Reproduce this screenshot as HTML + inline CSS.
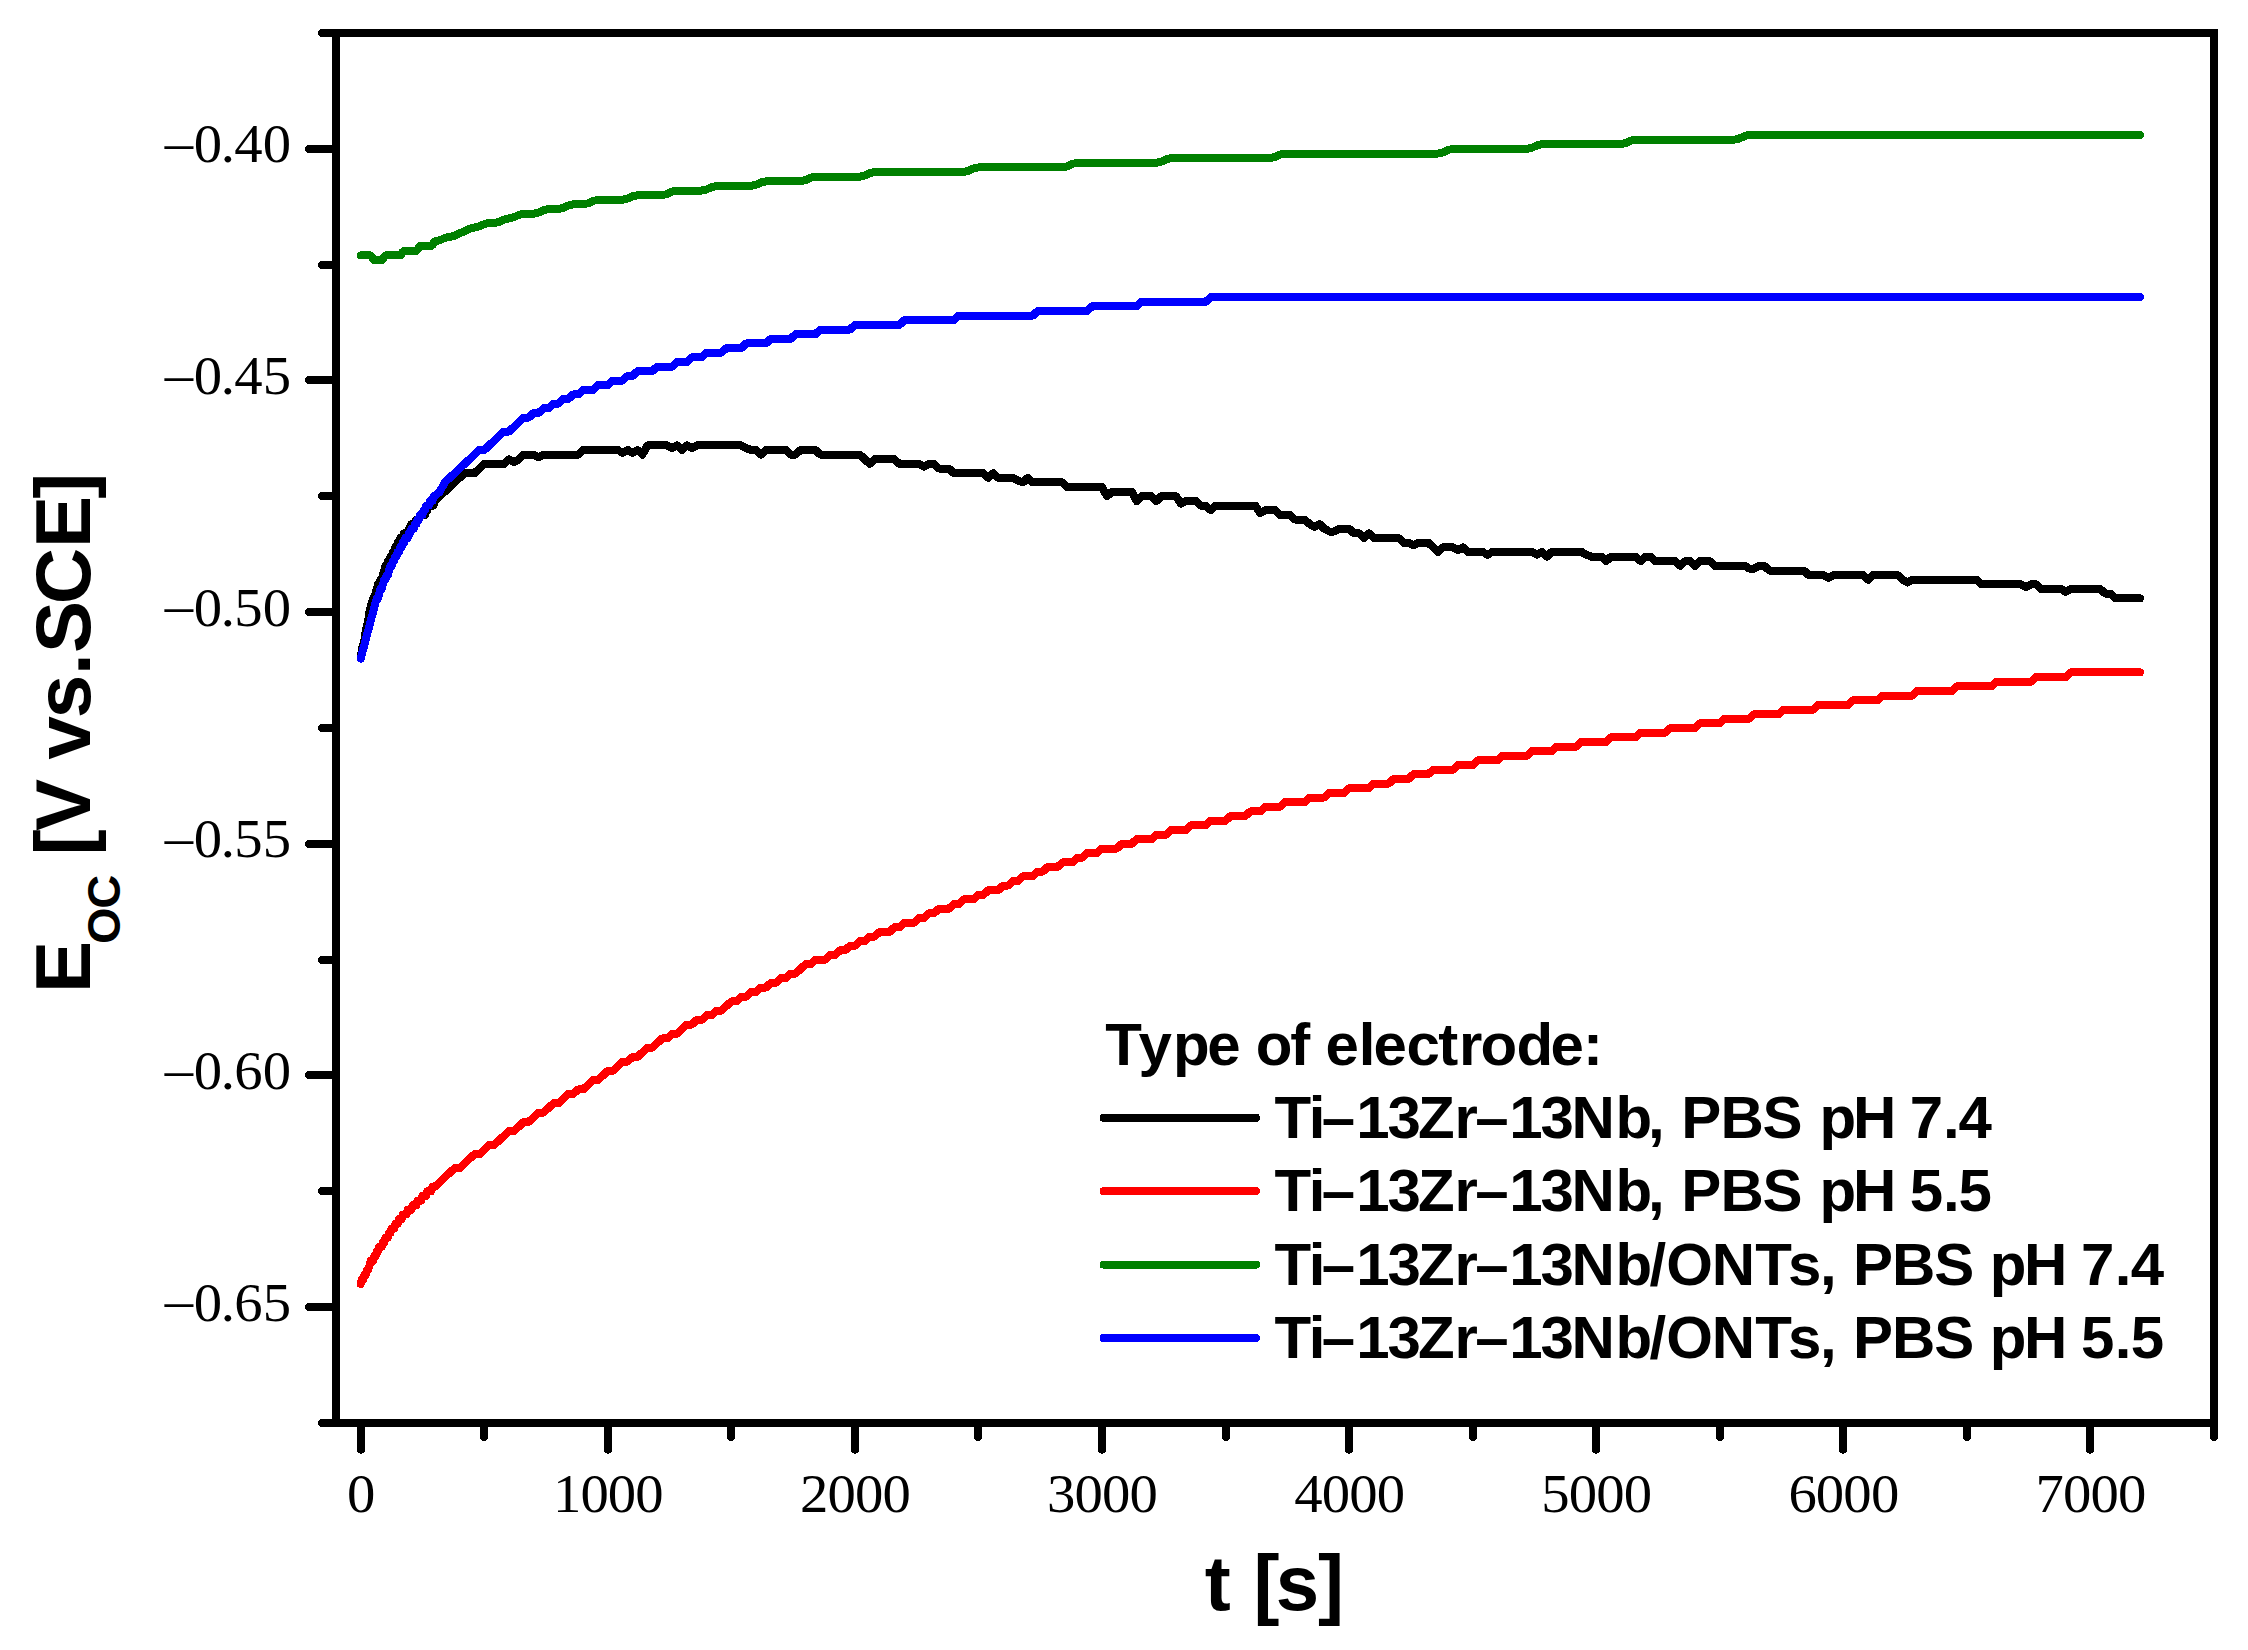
<!DOCTYPE html>
<html lang="en"><head><meta charset="utf-8"><title>Open circuit potential</title>
<style>html,body{margin:0;padding:0;background:#fff;overflow:hidden}svg{display:block}.tk{font-family:"Liberation Serif","Times New Roman",serif;font-size:54px;fill:#000}.lb{font-family:"Liberation Sans",Arial,sans-serif;font-weight:bold;fill:#000}</style></head><body>
<svg shape-rendering="crispEdges" width="2248" height="1650" viewBox="0 0 2248 1650">
<rect width="2248" height="1650" fill="#fff"/>
<g fill="none" stroke-width="8.0" stroke-linecap="round" stroke-linejoin="round">
<path stroke="#000" d="M360.7,658.5 L361.9,649.2 L363.2,644.6 L364.4,640.0 L365.7,630.7 L366.9,626.1 L368.1,621.4 L369.4,612.2 L370.6,607.5 L371.8,602.9 L373.1,598.3 L374.3,598.3 L375.5,593.6 L376.8,589.0 L378.0,584.4 L379.2,584.4 L380.5,579.7 L381.7,579.7 L382.9,575.1 L384.2,570.5 L385.4,565.8 L386.7,565.8 L387.9,561.2 L389.1,561.2 L390.4,556.6 L391.6,556.6 L392.8,551.9 L394.1,551.9 L395.3,547.3 L396.5,547.3 L397.8,542.7 L399.0,542.7 L400.2,538.0 L401.5,538.0 L402.7,538.0 L404.0,533.4 L405.2,533.4 L406.4,533.4 L407.7,533.4 L408.9,528.8 L410.1,528.8 L411.4,524.1 L412.6,524.1 L413.8,524.1 L415.1,524.1 L416.3,519.5 L417.5,519.5 L418.8,519.5 L420.0,514.9 L421.3,514.9 L422.5,514.9 L423.7,514.9 L425.0,514.9 L426.2,510.2 L427.4,510.2 L428.7,505.6 L429.9,505.6 L431.1,505.6 L432.4,505.6 L433.6,505.6 L434.8,501.0 L439.8,496.3 L444.7,491.7 L449.7,487.1 L454.6,482.4 L459.6,477.8 L464.5,473.2 L469.4,473.2 L474.4,473.2 L479.3,468.5 L484.3,463.9 L489.2,463.9 L494.1,463.9 L499.1,463.9 L504.0,463.9 L509.0,459.3 L513.9,462.0 L518.9,459.3 L523.8,454.6 L528.7,454.6 L533.7,454.6 L538.6,457.4 L543.6,454.6 L548.5,454.6 L553.5,454.6 L558.4,454.6 L563.3,454.6 L568.3,454.6 L573.2,454.6 L578.2,454.6 L583.1,450.0 L588.0,450.0 L593.0,450.0 L597.9,450.0 L602.9,450.0 L607.8,450.0 L612.8,450.0 L617.7,450.0 L622.6,452.8 L627.6,450.0 L632.5,452.8 L637.5,450.0 L642.4,454.6 L647.4,445.4 L652.3,445.4 L657.2,445.4 L662.2,445.4 L667.1,445.4 L672.1,448.1 L677.0,445.4 L681.9,450.0 L686.9,445.4 L691.8,448.1 L696.8,445.4 L701.7,445.4 L706.7,445.4 L711.6,445.4 L716.5,445.4 L721.5,445.4 L726.4,445.4 L731.4,445.4 L736.3,445.4 L741.3,445.4 L746.2,448.1 L751.1,450.0 L756.1,450.0 L761.0,454.6 L766.0,450.0 L770.9,450.0 L775.8,450.0 L780.8,450.0 L785.7,450.0 L790.7,454.6 L795.6,454.6 L800.6,450.0 L805.5,450.0 L810.4,450.0 L815.4,450.0 L820.3,454.6 L825.3,454.6 L830.2,454.6 L835.2,454.6 L840.1,454.6 L845.0,454.6 L850.0,454.6 L854.9,454.6 L859.9,454.6 L864.8,459.3 L869.7,463.9 L874.7,459.3 L879.6,459.3 L884.6,459.3 L889.5,459.3 L894.5,459.3 L899.4,463.9 L904.3,463.9 L909.3,463.9 L914.2,463.9 L919.2,463.9 L924.1,466.7 L929.1,463.9 L934.0,463.9 L938.9,468.5 L943.9,468.5 L948.8,468.5 L953.8,473.2 L958.7,473.2 L963.6,473.2 L968.6,473.2 L973.5,473.2 L978.5,473.2 L983.4,473.2 L988.4,477.8 L993.3,473.2 L998.2,477.8 L1003.2,477.8 L1008.1,477.8 L1013.1,477.8 L1018.0,480.6 L1023.0,482.4 L1027.9,477.8 L1032.8,482.4 L1037.8,482.4 L1042.7,482.4 L1047.7,482.4 L1052.6,482.4 L1057.5,482.4 L1062.5,482.4 L1067.4,487.1 L1072.4,487.1 L1077.3,487.1 L1082.3,487.1 L1087.2,487.1 L1092.1,487.1 L1097.1,487.1 L1102.0,487.1 L1107.0,496.3 L1111.9,491.7 L1116.9,491.7 L1121.8,491.7 L1126.7,491.7 L1131.7,491.7 L1136.6,501.0 L1141.6,496.3 L1146.5,496.3 L1151.4,496.3 L1156.4,501.0 L1161.3,496.3 L1166.3,496.3 L1171.2,496.3 L1176.2,496.3 L1181.1,503.7 L1186.0,501.0 L1191.0,501.0 L1195.9,501.0 L1200.9,505.6 L1205.8,505.6 L1210.8,510.2 L1215.7,505.6 L1220.6,505.6 L1225.6,505.6 L1230.5,505.6 L1235.5,505.6 L1240.4,505.6 L1245.3,505.6 L1250.3,505.6 L1255.2,505.6 L1260.2,513.0 L1265.1,510.2 L1270.1,510.2 L1275.0,510.2 L1279.9,514.9 L1284.9,514.9 L1289.8,514.9 L1294.8,519.5 L1299.7,519.5 L1304.7,519.5 L1309.6,524.1 L1314.5,526.9 L1319.5,524.1 L1324.4,528.8 L1329.4,531.5 L1334.3,531.5 L1339.2,528.8 L1344.2,528.8 L1349.1,528.8 L1354.1,533.4 L1359.0,533.4 L1364.0,538.0 L1368.9,533.4 L1373.8,538.0 L1378.8,538.0 L1383.7,538.0 L1388.7,538.0 L1393.6,538.0 L1398.6,538.0 L1403.5,542.7 L1408.4,542.7 L1413.4,545.4 L1418.3,542.7 L1423.3,542.7 L1428.2,542.7 L1433.1,547.3 L1438.1,551.9 L1443.0,547.3 L1448.0,547.3 L1452.9,547.3 L1457.9,550.1 L1462.8,547.3 L1467.7,551.9 L1472.7,551.9 L1477.6,551.9 L1482.6,551.9 L1487.5,554.7 L1492.5,551.9 L1497.4,551.9 L1502.3,551.9 L1507.3,551.9 L1512.2,551.9 L1517.2,551.9 L1522.1,551.9 L1527.0,551.9 L1532.0,551.9 L1536.9,554.7 L1541.9,551.9 L1546.8,556.6 L1551.8,551.9 L1556.7,551.9 L1561.6,551.9 L1566.6,551.9 L1571.5,551.9 L1576.5,551.9 L1581.4,551.9 L1586.4,554.7 L1591.3,556.6 L1596.2,556.6 L1601.2,556.6 L1606.1,561.2 L1611.1,556.6 L1616.0,556.6 L1620.9,556.6 L1625.9,556.6 L1630.8,556.6 L1635.8,556.6 L1640.7,561.2 L1645.7,556.6 L1650.6,556.6 L1655.5,561.2 L1660.5,561.2 L1665.4,561.2 L1670.4,561.2 L1675.3,561.2 L1680.3,565.8 L1685.2,561.2 L1690.1,561.2 L1695.1,565.8 L1700.0,561.2 L1705.0,561.2 L1709.9,561.2 L1714.8,565.8 L1719.8,565.8 L1724.7,565.8 L1729.7,565.8 L1734.6,565.8 L1739.6,565.8 L1744.5,565.8 L1749.4,568.6 L1754.4,568.6 L1759.3,565.8 L1764.3,565.8 L1769.2,570.5 L1774.2,570.5 L1779.1,570.5 L1784.0,570.5 L1789.0,570.5 L1793.9,570.5 L1798.9,570.5 L1803.8,570.5 L1808.7,575.1 L1813.7,575.1 L1818.6,575.1 L1823.6,575.1 L1828.5,577.9 L1833.5,575.1 L1838.4,575.1 L1843.3,575.1 L1848.3,575.1 L1853.2,575.1 L1858.2,575.1 L1863.1,575.1 L1868.1,579.7 L1873.0,575.1 L1877.9,575.1 L1882.9,575.1 L1887.8,575.1 L1892.8,575.1 L1897.7,575.1 L1902.6,579.7 L1907.6,582.5 L1912.5,579.7 L1917.5,579.7 L1922.4,579.7 L1927.4,579.7 L1932.3,579.7 L1937.2,579.7 L1942.2,579.7 L1947.1,579.7 L1952.1,579.7 L1957.0,579.7 L1962.0,579.7 L1966.9,579.7 L1971.8,579.7 L1976.8,579.7 L1981.7,584.4 L1986.7,584.4 L1991.6,584.4 L1996.5,584.4 L2001.5,584.4 L2006.4,584.4 L2011.4,584.4 L2016.3,584.4 L2021.3,584.4 L2026.2,587.1 L2031.1,584.4 L2036.1,584.4 L2041.0,589.0 L2046.0,589.0 L2050.9,589.0 L2055.9,589.0 L2060.8,589.0 L2065.7,591.8 L2070.7,589.0 L2075.6,589.0 L2080.6,589.0 L2085.5,589.0 L2090.4,589.0 L2095.4,589.0 L2100.3,589.0 L2105.3,593.6 L2110.2,593.6 L2115.2,598.3 L2120.1,598.3 L2125.0,598.3 L2130.0,598.3 L2134.9,598.3 L2139.9,598.3"/>
<path stroke="#f00" d="M360.7,1284.0 L361.9,1279.4 L363.2,1279.4 L364.4,1274.7 L365.7,1274.7 L366.9,1270.1 L368.1,1270.1 L369.4,1265.5 L370.6,1260.8 L371.8,1260.8 L373.1,1260.8 L374.3,1256.2 L375.5,1256.2 L376.8,1251.6 L378.0,1251.6 L379.2,1246.9 L380.5,1246.9 L381.7,1246.9 L382.9,1242.3 L384.2,1242.3 L385.4,1237.7 L386.7,1237.7 L387.9,1237.7 L389.1,1233.0 L390.4,1233.0 L391.6,1228.4 L392.8,1228.4 L394.1,1228.4 L395.3,1223.8 L396.5,1223.8 L397.8,1223.8 L399.0,1219.1 L400.2,1219.1 L401.5,1219.1 L402.7,1214.5 L404.0,1214.5 L405.2,1214.5 L406.4,1214.5 L407.7,1209.9 L408.9,1209.9 L410.1,1209.9 L411.4,1209.9 L412.6,1205.2 L413.8,1205.2 L415.1,1205.2 L416.3,1205.2 L417.5,1200.6 L418.8,1200.6 L420.0,1200.6 L421.3,1200.6 L422.5,1196.0 L423.7,1196.0 L425.0,1196.0 L426.2,1196.0 L427.4,1191.3 L428.7,1191.3 L429.9,1191.3 L431.1,1191.3 L432.4,1186.7 L433.6,1186.7 L434.8,1186.7 L439.8,1182.1 L444.7,1177.4 L449.7,1172.8 L454.6,1168.2 L459.6,1168.2 L464.5,1163.5 L469.4,1158.9 L474.4,1154.3 L479.3,1154.3 L484.3,1149.6 L489.2,1145.0 L494.1,1145.0 L499.1,1140.4 L504.0,1135.7 L509.0,1131.1 L513.9,1131.1 L518.9,1126.5 L523.8,1121.8 L528.7,1121.8 L533.7,1117.2 L538.6,1112.6 L543.6,1112.6 L548.5,1107.9 L553.5,1103.3 L558.4,1103.3 L563.3,1098.7 L568.3,1094.0 L573.2,1094.0 L578.2,1089.4 L583.1,1089.4 L588.0,1084.8 L593.0,1080.1 L597.9,1080.1 L602.9,1075.5 L607.8,1070.9 L612.8,1070.9 L617.7,1066.2 L622.6,1061.6 L627.6,1061.6 L632.5,1057.0 L637.5,1057.0 L642.4,1052.3 L647.4,1047.7 L652.3,1047.7 L657.2,1043.1 L662.2,1038.4 L667.1,1038.4 L672.1,1033.8 L677.0,1033.8 L681.9,1029.2 L686.9,1024.5 L691.8,1024.5 L696.8,1019.9 L701.7,1019.9 L706.7,1015.3 L711.6,1015.3 L716.5,1010.6 L721.5,1010.6 L726.4,1006.0 L731.4,1001.4 L736.3,1001.4 L741.3,996.7 L746.2,996.7 L751.1,992.1 L756.1,992.1 L761.0,987.5 L766.0,987.5 L770.9,982.8 L775.8,982.8 L780.8,978.2 L785.7,978.2 L790.7,973.6 L795.6,973.6 L800.6,968.9 L805.5,964.3 L810.4,964.3 L815.4,959.7 L820.3,959.7 L825.3,959.7 L830.2,955.0 L835.2,955.0 L840.1,950.4 L845.0,950.4 L850.0,945.8 L854.9,945.8 L859.9,941.1 L864.8,941.1 L869.7,936.5 L874.7,936.5 L879.6,931.9 L884.6,931.9 L889.5,931.9 L894.5,927.2 L899.4,927.2 L904.3,922.6 L909.3,922.6 L914.2,922.6 L919.2,918.0 L924.1,918.0 L929.1,913.3 L934.0,913.3 L938.9,908.7 L943.9,908.7 L948.8,908.7 L953.8,904.1 L958.7,904.1 L963.6,899.4 L968.6,899.4 L973.5,899.4 L978.5,894.8 L983.4,894.8 L988.4,890.2 L993.3,890.2 L998.2,890.2 L1003.2,885.5 L1008.1,885.5 L1013.1,880.9 L1018.0,880.9 L1023.0,876.3 L1027.9,876.3 L1032.8,876.3 L1037.8,871.6 L1042.7,871.6 L1047.7,867.0 L1052.6,867.0 L1057.5,867.0 L1062.5,862.4 L1067.4,862.4 L1072.4,862.4 L1077.3,857.7 L1082.3,857.7 L1087.2,853.1 L1092.1,853.1 L1097.1,853.1 L1102.0,848.5 L1107.0,848.5 L1111.9,848.5 L1116.9,848.5 L1121.8,843.8 L1126.7,843.8 L1131.7,843.8 L1136.6,839.2 L1141.6,839.2 L1146.5,839.2 L1151.4,839.2 L1156.4,834.6 L1161.3,834.6 L1166.3,834.6 L1171.2,829.9 L1176.2,829.9 L1181.1,829.9 L1186.0,829.9 L1191.0,825.3 L1195.9,825.3 L1200.9,825.3 L1205.8,825.3 L1210.8,820.7 L1215.7,820.7 L1220.6,820.7 L1225.6,820.7 L1230.5,816.0 L1235.5,816.0 L1240.4,816.0 L1245.3,816.0 L1250.3,811.4 L1255.2,811.4 L1260.2,811.4 L1265.1,806.8 L1270.1,806.8 L1275.0,806.8 L1279.9,806.8 L1284.9,802.1 L1289.8,802.1 L1294.8,802.1 L1299.7,802.1 L1304.7,802.1 L1309.6,797.5 L1314.5,797.5 L1319.5,797.5 L1324.4,797.5 L1329.4,792.9 L1334.3,792.9 L1339.2,792.9 L1344.2,792.9 L1349.1,788.2 L1354.1,788.2 L1359.0,788.2 L1364.0,788.2 L1368.9,788.2 L1373.8,783.6 L1378.8,783.6 L1383.7,783.6 L1388.7,783.6 L1393.6,779.0 L1398.6,779.0 L1403.5,779.0 L1408.4,779.0 L1413.4,774.3 L1418.3,774.3 L1423.3,774.3 L1428.2,774.3 L1433.1,769.7 L1438.1,769.7 L1443.0,769.7 L1448.0,769.7 L1452.9,769.7 L1457.9,765.1 L1462.8,765.1 L1467.7,765.1 L1472.7,765.1 L1477.6,760.4 L1482.6,760.4 L1487.5,760.4 L1492.5,760.4 L1497.4,760.4 L1502.3,755.8 L1507.3,755.8 L1512.2,755.8 L1517.2,755.8 L1522.1,755.8 L1527.0,755.8 L1532.0,751.2 L1536.9,751.2 L1541.9,751.2 L1546.8,751.2 L1551.8,751.2 L1556.7,746.5 L1561.6,746.5 L1566.6,746.5 L1571.5,746.5 L1576.5,746.5 L1581.4,741.9 L1586.4,741.9 L1591.3,741.9 L1596.2,741.9 L1601.2,741.9 L1606.1,741.9 L1611.1,737.3 L1616.0,737.3 L1620.9,737.3 L1625.9,737.3 L1630.8,737.3 L1635.8,737.3 L1640.7,732.6 L1645.7,732.6 L1650.6,732.6 L1655.5,732.6 L1660.5,732.6 L1665.4,732.6 L1670.4,728.0 L1675.3,728.0 L1680.3,728.0 L1685.2,728.0 L1690.1,728.0 L1695.1,728.0 L1700.0,723.4 L1705.0,723.4 L1709.9,723.4 L1714.8,723.4 L1719.8,723.4 L1724.7,718.7 L1729.7,718.7 L1734.6,718.7 L1739.6,718.7 L1744.5,718.7 L1749.4,718.7 L1754.4,714.1 L1759.3,714.1 L1764.3,714.1 L1769.2,714.1 L1774.2,714.1 L1779.1,714.1 L1784.0,709.5 L1789.0,709.5 L1793.9,709.5 L1798.9,709.5 L1803.8,709.5 L1808.7,709.5 L1813.7,709.5 L1818.6,704.8 L1823.6,704.8 L1828.5,704.8 L1833.5,704.8 L1838.4,704.8 L1843.3,704.8 L1848.3,704.8 L1853.2,700.2 L1858.2,700.2 L1863.1,700.2 L1868.1,700.2 L1873.0,700.2 L1877.9,700.2 L1882.9,695.6 L1887.8,695.6 L1892.8,695.6 L1897.7,695.6 L1902.6,695.6 L1907.6,695.6 L1912.5,695.6 L1917.5,690.9 L1922.4,690.9 L1927.4,690.9 L1932.3,690.9 L1937.2,690.9 L1942.2,690.9 L1947.1,690.9 L1952.1,690.9 L1957.0,686.3 L1962.0,686.3 L1966.9,686.3 L1971.8,686.3 L1976.8,686.3 L1981.7,686.3 L1986.7,686.3 L1991.6,686.3 L1996.5,681.7 L2001.5,681.7 L2006.4,681.7 L2011.4,681.7 L2016.3,681.7 L2021.3,681.7 L2026.2,681.7 L2031.1,681.7 L2036.1,677.0 L2041.0,677.0 L2046.0,677.0 L2050.9,677.0 L2055.9,677.0 L2060.8,677.0 L2065.7,677.0 L2070.7,672.4 L2075.6,672.4 L2080.6,672.4 L2085.5,672.4 L2090.4,672.4 L2095.4,672.4 L2100.3,672.4 L2105.3,672.4 L2110.2,672.4 L2115.2,672.4 L2120.1,672.4 L2125.0,672.4 L2130.0,672.4 L2134.9,672.4 L2139.9,672.4"/>
<path stroke="#008000" d="M360.7,255.4 L361.9,255.4 L363.2,255.4 L364.4,255.4 L365.7,255.4 L366.9,255.4 L368.1,255.4 L369.4,255.4 L370.6,255.4 L371.8,256.6 L373.1,258.9 L374.3,260.0 L375.5,260.0 L376.8,260.0 L378.0,260.0 L379.2,260.0 L380.5,260.0 L381.7,260.0 L382.9,258.9 L384.2,256.6 L385.4,255.4 L386.7,255.4 L387.9,255.4 L389.1,255.4 L390.4,255.4 L391.6,255.4 L392.8,255.4 L394.1,255.4 L395.3,255.4 L396.5,255.4 L397.8,255.4 L399.0,255.4 L400.2,255.4 L401.5,254.2 L402.7,251.9 L404.0,250.8 L405.2,250.8 L406.4,250.8 L407.7,250.8 L408.9,250.8 L410.1,250.8 L411.4,250.8 L412.6,250.8 L413.8,250.8 L415.1,250.8 L416.3,250.8 L417.5,249.6 L418.8,247.3 L420.0,246.1 L421.3,246.1 L422.5,246.1 L423.7,246.1 L425.0,246.1 L426.2,246.1 L427.4,246.1 L428.7,246.1 L429.9,246.1 L431.1,246.1 L432.4,245.0 L433.6,242.7 L434.8,241.5 L439.8,240.3 L444.7,238.0 L449.7,236.9 L454.6,235.7 L459.6,233.4 L464.5,231.1 L469.4,228.8 L474.4,227.6 L479.3,226.4 L484.3,224.1 L489.2,223.0 L494.1,223.0 L499.1,221.8 L504.0,219.5 L509.0,218.3 L513.9,217.2 L518.9,214.9 L523.8,213.7 L528.7,213.7 L533.7,213.7 L538.6,212.5 L543.6,210.2 L548.5,209.1 L553.5,209.1 L558.4,209.1 L563.3,207.9 L568.3,205.6 L573.2,204.4 L578.2,204.4 L583.1,204.4 L588.0,203.3 L593.0,201.0 L597.9,199.8 L602.9,199.8 L607.8,199.8 L612.8,199.8 L617.7,199.8 L622.6,199.8 L627.6,198.6 L632.5,196.3 L637.5,195.2 L642.4,195.2 L647.4,195.2 L652.3,195.2 L657.2,195.2 L662.2,195.2 L667.1,194.0 L672.1,191.7 L677.0,190.5 L681.9,190.5 L686.9,190.5 L691.8,190.5 L696.8,190.5 L701.7,190.5 L706.7,189.4 L711.6,187.1 L716.5,185.9 L721.5,185.9 L726.4,185.9 L731.4,185.9 L736.3,185.9 L741.3,185.9 L746.2,185.9 L751.1,185.9 L756.1,184.7 L761.0,182.4 L766.0,181.3 L770.9,181.3 L775.8,181.3 L780.8,181.3 L785.7,181.3 L790.7,181.3 L795.6,181.3 L800.6,181.3 L805.5,180.1 L810.4,177.8 L815.4,176.6 L820.3,176.6 L825.3,176.6 L830.2,176.6 L835.2,176.6 L840.1,176.6 L845.0,176.6 L850.0,176.6 L854.9,176.6 L859.9,176.6 L864.8,175.5 L869.7,173.2 L874.7,172.0 L879.6,172.0 L884.6,172.0 L889.5,172.0 L894.5,172.0 L899.4,172.0 L904.3,172.0 L909.3,172.0 L914.2,172.0 L919.2,172.0 L924.1,172.0 L929.1,172.0 L934.0,172.0 L938.9,172.0 L943.9,172.0 L948.8,172.0 L953.8,172.0 L958.7,172.0 L963.6,172.0 L968.6,170.8 L973.5,168.5 L978.5,167.4 L983.4,167.4 L988.4,167.4 L993.3,167.4 L998.2,167.4 L1003.2,167.4 L1008.1,167.4 L1013.1,167.4 L1018.0,167.4 L1023.0,167.4 L1027.9,167.4 L1032.8,167.4 L1037.8,167.4 L1042.7,167.4 L1047.7,167.4 L1052.6,167.4 L1057.5,167.4 L1062.5,167.4 L1067.4,166.2 L1072.4,163.9 L1077.3,162.7 L1082.3,162.7 L1087.2,162.7 L1092.1,162.7 L1097.1,162.7 L1102.0,162.7 L1107.0,162.7 L1111.9,162.7 L1116.9,162.7 L1121.8,162.7 L1126.7,162.7 L1131.7,162.7 L1136.6,162.7 L1141.6,162.7 L1146.5,162.7 L1151.4,162.7 L1156.4,162.7 L1161.3,161.6 L1166.3,159.3 L1171.2,158.1 L1176.2,158.1 L1181.1,158.1 L1186.0,158.1 L1191.0,158.1 L1195.9,158.1 L1200.9,158.1 L1205.8,158.1 L1210.8,158.1 L1215.7,158.1 L1220.6,158.1 L1225.6,158.1 L1230.5,158.1 L1235.5,158.1 L1240.4,158.1 L1245.3,158.1 L1250.3,158.1 L1255.2,158.1 L1260.2,158.1 L1265.1,158.1 L1270.1,158.1 L1275.0,156.9 L1279.9,154.6 L1284.9,153.5 L1289.8,153.5 L1294.8,153.5 L1299.7,153.5 L1304.7,153.5 L1309.6,153.5 L1314.5,153.5 L1319.5,153.5 L1324.4,153.5 L1329.4,153.5 L1334.3,153.5 L1339.2,153.5 L1344.2,153.5 L1349.1,153.5 L1354.1,153.5 L1359.0,153.5 L1364.0,153.5 L1368.9,153.5 L1373.8,153.5 L1378.8,153.5 L1383.7,153.5 L1388.7,153.5 L1393.6,153.5 L1398.6,153.5 L1403.5,153.5 L1408.4,153.5 L1413.4,153.5 L1418.3,153.5 L1423.3,153.5 L1428.2,153.5 L1433.1,153.5 L1438.1,153.5 L1443.0,152.3 L1448.0,150.0 L1452.9,148.8 L1457.9,148.8 L1462.8,148.8 L1467.7,148.8 L1472.7,148.8 L1477.6,148.8 L1482.6,148.8 L1487.5,148.8 L1492.5,148.8 L1497.4,148.8 L1502.3,148.8 L1507.3,148.8 L1512.2,148.8 L1517.2,148.8 L1522.1,148.8 L1527.0,148.8 L1532.0,147.7 L1536.9,145.4 L1541.9,144.2 L1546.8,144.2 L1551.8,144.2 L1556.7,144.2 L1561.6,144.2 L1566.6,144.2 L1571.5,144.2 L1576.5,144.2 L1581.4,144.2 L1586.4,144.2 L1591.3,144.2 L1596.2,144.2 L1601.2,144.2 L1606.1,144.2 L1611.1,144.2 L1616.0,144.2 L1620.9,144.2 L1625.9,143.0 L1630.8,140.7 L1635.8,139.6 L1640.7,139.6 L1645.7,139.6 L1650.6,139.6 L1655.5,139.6 L1660.5,139.6 L1665.4,139.6 L1670.4,139.6 L1675.3,139.6 L1680.3,139.6 L1685.2,139.6 L1690.1,139.6 L1695.1,139.6 L1700.0,139.6 L1705.0,139.6 L1709.9,139.6 L1714.8,139.6 L1719.8,139.6 L1724.7,139.6 L1729.7,139.6 L1734.6,139.6 L1739.6,138.4 L1744.5,136.1 L1749.4,134.9 L1754.4,134.9 L1759.3,134.9 L1764.3,134.9 L1769.2,134.9 L1774.2,134.9 L1779.1,134.9 L1784.0,134.9 L1789.0,134.9 L1793.9,134.9 L1798.9,134.9 L1803.8,134.9 L1808.7,134.9 L1813.7,134.9 L1818.6,134.9 L1823.6,134.9 L1828.5,134.9 L1833.5,134.9 L1838.4,134.9 L1843.3,134.9 L1848.3,134.9 L1853.2,134.9 L1858.2,134.9 L1863.1,134.9 L1868.1,134.9 L1873.0,134.9 L1877.9,134.9 L1882.9,134.9 L1887.8,134.9 L1892.8,134.9 L1897.7,134.9 L1902.6,134.9 L1907.6,134.9 L1912.5,134.9 L1917.5,134.9 L1922.4,134.9 L1927.4,134.9 L1932.3,134.9 L1937.2,134.9 L1942.2,134.9 L1947.1,134.9 L1952.1,134.9 L1957.0,134.9 L1962.0,134.9 L1966.9,134.9 L1971.8,134.9 L1976.8,134.9 L1981.7,134.9 L1986.7,134.9 L1991.6,134.9 L1996.5,134.9 L2001.5,134.9 L2006.4,134.9 L2011.4,134.9 L2016.3,134.9 L2021.3,134.9 L2026.2,134.9 L2031.1,134.9 L2036.1,134.9 L2041.0,134.9 L2046.0,134.9 L2050.9,134.9 L2055.9,134.9 L2060.8,134.9 L2065.7,134.9 L2070.7,134.9 L2075.6,134.9 L2080.6,134.9 L2085.5,134.9 L2090.4,134.9 L2095.4,134.9 L2100.3,134.9 L2105.3,134.9 L2110.2,134.9 L2115.2,134.9 L2120.1,134.9 L2125.0,134.9 L2130.0,134.9 L2134.9,134.9 L2139.9,134.9"/>
<path stroke="#00f" d="M360.7,658.5 L361.9,653.9 L363.2,649.2 L364.4,644.6 L365.7,640.0 L366.9,635.3 L368.1,630.7 L369.4,626.1 L370.6,621.4 L371.8,616.8 L373.1,612.2 L374.3,607.5 L375.5,602.9 L376.8,598.3 L378.0,598.3 L379.2,593.6 L380.5,589.0 L381.7,589.0 L382.9,584.4 L384.2,579.7 L385.4,579.7 L386.7,575.1 L387.9,575.1 L389.1,570.5 L390.4,565.8 L391.6,565.8 L392.8,561.2 L394.1,561.2 L395.3,556.6 L396.5,556.6 L397.8,551.9 L399.0,551.9 L400.2,547.3 L401.5,547.3 L402.7,542.7 L404.0,542.7 L405.2,538.0 L406.4,538.0 L407.7,538.0 L408.9,533.4 L410.1,533.4 L411.4,528.8 L412.6,528.8 L413.8,528.8 L415.1,524.1 L416.3,524.1 L417.5,519.5 L418.8,519.5 L420.0,514.9 L421.3,514.9 L422.5,514.9 L423.7,510.2 L425.0,510.2 L426.2,505.6 L427.4,505.6 L428.7,505.6 L429.9,501.0 L431.1,501.0 L432.4,501.0 L433.6,496.3 L434.8,496.3 L439.8,491.7 L444.7,482.4 L449.7,477.8 L454.6,473.2 L459.6,468.5 L464.5,463.9 L469.4,459.3 L474.4,454.6 L479.3,450.0 L484.3,450.0 L489.2,445.4 L494.1,440.7 L499.1,436.1 L504.0,431.5 L509.0,431.5 L513.9,426.8 L518.9,422.2 L523.8,417.6 L528.7,417.6 L533.7,412.9 L538.6,412.9 L543.6,408.3 L548.5,408.3 L553.5,403.7 L558.4,403.7 L563.3,399.0 L568.3,399.0 L573.2,394.4 L578.2,394.4 L583.1,389.8 L588.0,389.8 L593.0,389.8 L597.9,385.1 L602.9,385.1 L607.8,385.1 L612.8,380.5 L617.7,380.5 L622.6,380.5 L627.6,375.9 L632.5,375.9 L637.5,371.2 L642.4,371.2 L647.4,371.2 L652.3,371.2 L657.2,366.6 L662.2,366.6 L667.1,366.6 L672.1,366.6 L677.0,362.0 L681.9,362.0 L686.9,362.0 L691.8,357.3 L696.8,357.3 L701.7,357.3 L706.7,352.7 L711.6,352.7 L716.5,352.7 L721.5,352.7 L726.4,348.1 L731.4,348.1 L736.3,348.1 L741.3,348.1 L746.2,343.4 L751.1,343.4 L756.1,343.4 L761.0,343.4 L766.0,343.4 L770.9,338.8 L775.8,338.8 L780.8,338.8 L785.7,338.8 L790.7,338.8 L795.6,334.2 L800.6,334.2 L805.5,334.2 L810.4,334.2 L815.4,334.2 L820.3,329.5 L825.3,329.5 L830.2,329.5 L835.2,329.5 L840.1,329.5 L845.0,329.5 L850.0,329.5 L854.9,324.9 L859.9,324.9 L864.8,324.9 L869.7,324.9 L874.7,324.9 L879.6,324.9 L884.6,324.9 L889.5,324.9 L894.5,324.9 L899.4,324.9 L904.3,320.3 L909.3,320.3 L914.2,320.3 L919.2,320.3 L924.1,320.3 L929.1,320.3 L934.0,320.3 L938.9,320.3 L943.9,320.3 L948.8,320.3 L953.8,320.3 L958.7,315.6 L963.6,315.6 L968.6,315.6 L973.5,315.6 L978.5,315.6 L983.4,315.6 L988.4,315.6 L993.3,315.6 L998.2,315.6 L1003.2,315.6 L1008.1,315.6 L1013.1,315.6 L1018.0,315.6 L1023.0,315.6 L1027.9,315.6 L1032.8,315.6 L1037.8,311.0 L1042.7,311.0 L1047.7,311.0 L1052.6,311.0 L1057.5,311.0 L1062.5,311.0 L1067.4,311.0 L1072.4,311.0 L1077.3,311.0 L1082.3,311.0 L1087.2,311.0 L1092.1,306.4 L1097.1,306.4 L1102.0,306.4 L1107.0,306.4 L1111.9,306.4 L1116.9,306.4 L1121.8,306.4 L1126.7,306.4 L1131.7,306.4 L1136.6,306.4 L1141.6,301.7 L1146.5,301.7 L1151.4,301.7 L1156.4,301.7 L1161.3,301.7 L1166.3,301.7 L1171.2,301.7 L1176.2,301.7 L1181.1,301.7 L1186.0,301.7 L1191.0,301.7 L1195.9,301.7 L1200.9,301.7 L1205.8,301.7 L1210.8,297.1 L1215.7,297.1 L1220.6,297.1 L1225.6,297.1 L1230.5,297.1 L1235.5,297.1 L1240.4,297.1 L1245.3,297.1 L1250.3,297.1 L1255.2,297.1 L1260.2,297.1 L1265.1,297.1 L1270.1,297.1 L1275.0,297.1 L1279.9,297.1 L1284.9,297.1 L1289.8,297.1 L1294.8,297.1 L1299.7,297.1 L1304.7,297.1 L1309.6,297.1 L1314.5,297.1 L1319.5,297.1 L1324.4,297.1 L1329.4,297.1 L1334.3,297.1 L1339.2,297.1 L1344.2,297.1 L1349.1,297.1 L1354.1,297.1 L1359.0,297.1 L1364.0,297.1 L1368.9,297.1 L1373.8,297.1 L1378.8,297.1 L1383.7,297.1 L1388.7,297.1 L1393.6,297.1 L1398.6,297.1 L1403.5,297.1 L1408.4,297.1 L1413.4,297.1 L1418.3,297.1 L1423.3,297.1 L1428.2,297.1 L1433.1,297.1 L1438.1,297.1 L1443.0,297.1 L1448.0,297.1 L1452.9,297.1 L1457.9,297.1 L1462.8,297.1 L1467.7,297.1 L1472.7,297.1 L1477.6,297.1 L1482.6,297.1 L1487.5,297.1 L1492.5,297.1 L1497.4,297.1 L1502.3,297.1 L1507.3,297.1 L1512.2,297.1 L1517.2,297.1 L1522.1,297.1 L1527.0,297.1 L1532.0,297.1 L1536.9,297.1 L1541.9,297.1 L1546.8,297.1 L1551.8,297.1 L1556.7,297.1 L1561.6,297.1 L1566.6,297.1 L1571.5,297.1 L1576.5,297.1 L1581.4,297.1 L1586.4,297.1 L1591.3,297.1 L1596.2,297.1 L1601.2,297.1 L1606.1,297.1 L1611.1,297.1 L1616.0,297.1 L1620.9,297.1 L1625.9,297.1 L1630.8,297.1 L1635.8,297.1 L1640.7,297.1 L1645.7,297.1 L1650.6,297.1 L1655.5,297.1 L1660.5,297.1 L1665.4,297.1 L1670.4,297.1 L1675.3,297.1 L1680.3,297.1 L1685.2,297.1 L1690.1,297.1 L1695.1,297.1 L1700.0,297.1 L1705.0,297.1 L1709.9,297.1 L1714.8,297.1 L1719.8,297.1 L1724.7,297.1 L1729.7,297.1 L1734.6,297.1 L1739.6,297.1 L1744.5,297.1 L1749.4,297.1 L1754.4,297.1 L1759.3,297.1 L1764.3,297.1 L1769.2,297.1 L1774.2,297.1 L1779.1,297.1 L1784.0,297.1 L1789.0,297.1 L1793.9,297.1 L1798.9,297.1 L1803.8,297.1 L1808.7,297.1 L1813.7,297.1 L1818.6,297.1 L1823.6,297.1 L1828.5,297.1 L1833.5,297.1 L1838.4,297.1 L1843.3,297.1 L1848.3,297.1 L1853.2,297.1 L1858.2,297.1 L1863.1,297.1 L1868.1,297.1 L1873.0,297.1 L1877.9,297.1 L1882.9,297.1 L1887.8,297.1 L1892.8,297.1 L1897.7,297.1 L1902.6,297.1 L1907.6,297.1 L1912.5,297.1 L1917.5,297.1 L1922.4,297.1 L1927.4,297.1 L1932.3,297.1 L1937.2,297.1 L1942.2,297.1 L1947.1,297.1 L1952.1,297.1 L1957.0,297.1 L1962.0,297.1 L1966.9,297.1 L1971.8,297.1 L1976.8,297.1 L1981.7,297.1 L1986.7,297.1 L1991.6,297.1 L1996.5,297.1 L2001.5,297.1 L2006.4,297.1 L2011.4,297.1 L2016.3,297.1 L2021.3,297.1 L2026.2,297.1 L2031.1,297.1 L2036.1,297.1 L2041.0,297.1 L2046.0,297.1 L2050.9,297.1 L2055.9,297.1 L2060.8,297.1 L2065.7,297.1 L2070.7,297.1 L2075.6,297.1 L2080.6,297.1 L2085.5,297.1 L2090.4,297.1 L2095.4,297.1 L2100.3,297.1 L2105.3,297.1 L2110.2,297.1 L2115.2,297.1 L2120.1,297.1 L2125.0,297.1 L2130.0,297.1 L2134.9,297.1 L2139.9,297.1"/>
</g>
<g stroke="#000" stroke-width="8.0" stroke-linecap="round" fill="none">
<path stroke-linecap="butt" stroke-linejoin="miter" d="M336.0,33.0 H2214.0 V1423.0"/>
<path stroke-linecap="butt" d="M336.0,33.0 V1423.0 H2214.0"/>
<path d="M309,149 H336.0"/>
<path d="M309,380 H336.0"/>
<path d="M309,612 H336.0"/>
<path d="M309,844 H336.0"/>
<path d="M309,1075 H336.0"/>
<path d="M309,1307 H336.0"/>
<path d="M322,33 H336.0"/>
<path d="M322,265 H336.0"/>
<path d="M322,496 H336.0"/>
<path d="M322,728 H336.0"/>
<path d="M322,960 H336.0"/>
<path d="M322,1191 H336.0"/>
<path d="M322,1423 H336.0"/>
<path d="M361,1423.0 V1449.6"/>
<path d="M608,1423.0 V1449.6"/>
<path d="M855,1423.0 V1449.6"/>
<path d="M1102,1423.0 V1449.6"/>
<path d="M1349,1423.0 V1449.6"/>
<path d="M1596,1423.0 V1449.6"/>
<path d="M1843,1423.0 V1449.6"/>
<path d="M2090,1423.0 V1449.6"/>
<path d="M484,1423.0 V1437"/>
<path d="M731,1423.0 V1437"/>
<path d="M978,1423.0 V1437"/>
<path d="M1226,1423.0 V1437"/>
<path d="M1473,1423.0 V1437"/>
<path d="M1720,1423.0 V1437"/>
<path d="M1967,1423.0 V1437"/>
<path d="M2214,1423.0 V1437"/>
</g>
<text class="tk" transform="scale(1.05,1)" x="157.0 184.6 210.3 223.1 250.2" y="160.0 162.2">–0.40</text>
<text class="tk" transform="scale(1.05,1)" x="157.0 184.6 210.3 223.1 250.2" y="391.7 393.9">–0.45</text>
<text class="tk" transform="scale(1.05,1)" x="157.0 184.6 210.3 223.1 250.2" y="623.4 625.6">–0.50</text>
<text class="tk" transform="scale(1.05,1)" x="157.0 184.6 210.3 223.1 250.2" y="855.0 857.2">–0.55</text>
<text class="tk" transform="scale(1.05,1)" x="157.0 184.6 210.3 223.1 250.2" y="1086.7 1088.9">–0.60</text>
<text class="tk" transform="scale(1.05,1)" x="157.0 184.6 210.3 223.1 250.2" y="1318.4 1320.6">–0.65</text>
<text class="tk" transform="scale(1.05,1)" x="330.5" y="1512">0</text>
<text class="tk" transform="scale(1.05,1)" x="526.6 552.8 578.9 605.1" y="1512">1000</text>
<text class="tk" transform="scale(1.05,1)" x="761.9 788.1 814.3 840.5" y="1512">2000</text>
<text class="tk" transform="scale(1.05,1)" x="997.2 1023.4 1049.6 1075.8" y="1512">3000</text>
<text class="tk" transform="scale(1.05,1)" x="1232.6 1258.8 1285.0 1311.1" y="1512">4000</text>
<text class="tk" transform="scale(1.05,1)" x="1467.9 1494.1 1520.3 1546.5" y="1512">5000</text>
<text class="tk" transform="scale(1.05,1)" x="1703.3 1729.4 1755.6 1781.8" y="1512">6000</text>
<text class="tk" transform="scale(1.05,1)" x="1938.6 1964.8 1991.0 2017.2" y="1512">7000</text>
<text class="lb" font-size="78" x="1204.8 1230.8 1253.5 1275.8 1318.0" y="1610">t [s]</text>
<text class="lb" font-size="78" transform="translate(90,0) rotate(-90)"><tspan x="-993.1" y="0">E</tspan><tspan font-size="47" x="-944.1 -908.8" y="30.4">OC</tspan><tspan x="-874.9 -855.3 -831.0 -779.0 -759.4 -718.3 -675.0 -653.1 -604.2 -548.1 -498.8" y="0"> [V vs.SCE]</tspan></text>
<text class="lb" font-size="60" x="1105.3 1138.5 1172.9 1207.2 1240.5 1255.8 1290.3 1310.3 1325.4 1358.8 1373.5 1406.4 1438.3 1459.1 1480.5 1516.6 1550.6 1583.1" y="1065">Type of electrode:</text>
<g stroke-width="8.0" stroke-linecap="round">
<path stroke="#000" d="M1103.5,1117.75 H1256"/>
<path stroke="#f00" d="M1103.5,1191.20 H1256"/>
<path stroke="#008000" d="M1103.5,1264.65 H1256"/>
<path stroke="#00f" d="M1103.5,1338.10 H1256"/>
</g>
<text class="lb" font-size="60" x="1274.6 1308.8 1321.8 1356.2 1387.6 1417.9 1454.4 1475.2 1509.2 1540.6 1571.6 1615.5 1647.9 1664.6 1681.2 1720.4 1762.4 1802.4 1819.4 1853.0 1896.3 1909.7 1943.1 1958.6" y="1137.5">Ti–13Zr–13Nb, PBS pH 7.4</text>
<text class="lb" font-size="60" x="1274.6 1308.8 1321.8 1356.2 1387.6 1417.9 1454.4 1475.2 1509.2 1540.6 1571.6 1615.5 1647.9 1664.6 1681.2 1720.4 1762.4 1802.4 1819.4 1853.0 1896.3 1909.7 1943.1 1958.6" y="1211.1">Ti–13Zr–13Nb, PBS pH 5.5</text>
<text class="lb" font-size="60" x="1274.6 1308.8 1321.8 1356.2 1387.6 1417.9 1454.4 1475.2 1509.2 1540.6 1571.6 1615.5 1649.4 1666.2 1711.8 1755.2 1788.1 1820.1 1836.8 1852.9 1892.0 1934.3 1974.3 1989.8 2023.9 2067.2 2080.9 2114.8 2130.7" y="1284.7">Ti–13Zr–13Nb/ONTs, PBS pH 7.4</text>
<text class="lb" font-size="60" x="1274.6 1308.8 1321.8 1356.2 1387.6 1417.9 1454.4 1475.2 1509.2 1540.6 1571.6 1615.5 1649.4 1666.2 1711.8 1755.2 1788.1 1820.1 1836.8 1852.9 1892.0 1934.3 1974.3 1989.8 2023.9 2067.2 2080.9 2114.8 2130.7" y="1358.3">Ti–13Zr–13Nb/ONTs, PBS pH 5.5</text>
</svg></body></html>
